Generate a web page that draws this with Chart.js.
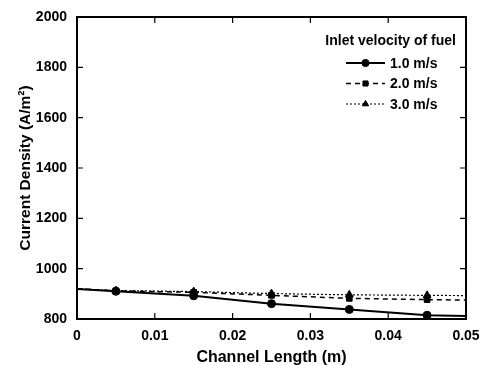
<!DOCTYPE html>
<html>
<head>
<meta charset="utf-8">
<script src="https://cdn.jsdelivr.net/npm/chart.js@4/dist/chart.umd.min.js"></script>
<style>
  html, body { margin: 0; padding: 0; background: #fff; }
  #wrap { width: 483px; height: 365px; }
</style>
</head>
<body>
<div id="wrap"><canvas id="chart" width="483" height="365"></canvas></div>
<script>
// Channel positions (m): line ends at 0 and 0.05, markers at the middle points
const positions = [0, 0.005, 0.015, 0.025, 0.035, 0.045, 0.05];
const markerShown = [0, 1, 1, 1, 1, 1, 0];

// Current density (A/m2) for each inlet velocity
const velocity1 = [919, 910, 892, 861, 838, 815, 812];
const velocity2 = [920, 912, 906, 894, 882, 877, 875];
const velocity3 = [920, 913, 909, 901, 896, 894, 893];

const seriesLabels = ["1.0 m/s", "2.0 m/s", "3.0 m/s"];
const legendTitle = "Inlet velocity of fuel";

const yTicks = [800, 1000, 1200, 1400, 1600, 1800, 2000];
const xTicks = [0, 0.01, 0.02, 0.03, 0.04, 0.05];
const xTickLabels = ["0", "0.01", "0.02", "0.03", "0.04", "0.05"];

const FONT = "'Liberation Sans', Arial, sans-serif";

function points(values) {
  return positions.map((x, i) => ({ x: x, y: values[i] }));
}
const radii = markerShown.map(m => m ? 4 : 0);

// ticks pointing inwards on all four sides plus the box
const frame = {
  id: 'frame',
  afterDraw(chart) {
    const c = chart.ctx, a = chart.chartArea;
    const xs = chart.scales.x, ys = chart.scales.y;
    c.save();
    c.strokeStyle = '#000';
    c.lineWidth = 2;
    c.strokeRect(a.left, a.top, a.right - a.left, a.bottom - a.top);
    c.lineWidth = 1.2;
    c.beginPath();
    xTicks.forEach(v => {
      const px = xs.getPixelForValue(v);
      c.moveTo(px, a.bottom); c.lineTo(px, a.bottom - 6);
      c.moveTo(px, a.top); c.lineTo(px, a.top + 6);
    });
    yTicks.forEach(v => {
      const py = ys.getPixelForValue(v);
      c.moveTo(a.left, py); c.lineTo(a.left + 6, py);
      c.moveTo(a.right, py); c.lineTo(a.right - 6, py);
    });
    c.stroke();
    c.restore();
  }
};

// legend with line + marker samples, drawn inside the plot
const lineLegend = {
  id: 'lineLegend',
  afterDraw(chart) {
    const c = chart.ctx, a = chart.chartArea;
    c.save();
    c.fillStyle = '#000';
    c.font = 'bold 14px ' + FONT;
    c.textAlign = 'right';
    c.textBaseline = 'middle';
    c.fillText(legendTitle, a.right - 10, a.top + 24);
    c.textAlign = 'left';
    c.font = 'bold 14px ' + FONT;
    chart.data.datasets.forEach((ds, i) => {
      const y = a.top + 46 + i * 20.5;
      const x0 = a.right - 120, x1 = a.right - 81;
      c.strokeStyle = '#000';
      c.lineWidth = ds.borderWidth;
      c.setLineDash(ds.borderDash || []);
      c.beginPath(); c.moveTo(x0, y); c.lineTo(x1, y); c.stroke();
      c.setLineDash([]);
      c.lineWidth = 1;
      Chart.helpers.drawPoint(c, { pointStyle: ds.pointStyle, radius: i === 2 ? 3.6 : 3.6, rotation: 0, borderWidth: 1 }, (x0 + x1) / 2, y);
      c.fillText(ds.label, x1 + 5, y + 1);
    });
    c.restore();
  }
};

new Chart(document.getElementById('chart'), {
  type: 'line',
  data: {
    datasets: [
      { label: seriesLabels[0], data: points(velocity1), borderColor: '#000', backgroundColor: '#000',
        borderWidth: 2, pointStyle: 'circle', pointRadius: radii, pointBorderWidth: 1 },
      { label: seriesLabels[1], data: points(velocity2), borderColor: '#000', backgroundColor: '#000',
        borderWidth: 1.5, borderDash: [5, 4], pointStyle: 'rect', pointRadius: radii, pointBorderWidth: 1 },
      { label: seriesLabels[2], data: points(velocity3), borderColor: '#000', backgroundColor: '#000',
        borderWidth: 1.2, borderDash: [2, 2], pointStyle: 'triangle', pointRadius: radii.map(r => r ? 4.5 : 0), pointBorderWidth: 1 }
    ]
  },
  options: {
    responsive: false,
    animation: false,
    devicePixelRatio: 1,
    layout: { padding: { left: 16, right: 17, top: 17, bottom: 0 } },
    plugins: { legend: { display: false }, tooltip: { enabled: false } },
    scales: {
      x: {
        type: 'linear', min: 0, max: 0.05,
        grid: { display: false },
        border: { display: false },
        afterBuildTicks: s => { s.ticks = xTicks.map(v => ({ value: v })); },
        afterFit: s => { s.height = 46; },
        ticks: {
          color: '#000', font: { family: FONT, size: 14, weight: 'bold' }, padding: 1,
          maxRotation: 0,
          callback: (v, i) => xTickLabels[i]
        },
        title: { display: true, text: 'Channel Length (m)', color: '#000',
                 font: { family: FONT, size: 16, weight: 'bold' }, padding: { top: 0, bottom: -2 } }
      },
      y: {
        min: 800, max: 2000,
        grid: { display: false },
        border: { display: false },
        afterBuildTicks: s => { s.ticks = yTicks.map(v => ({ value: v })); },
        afterFit: s => { s.width = 61; },
        ticks: {
          color: '#000', font: { family: FONT, size: 14, weight: 'bold' }, padding: 2,
          callback: v => String(v)
        },
        title: { display: true, text: 'Current Density (A/m²)', color: '#000',
                 font: { family: FONT, size: 15.5, weight: 'bold' }, padding: { top: 0, bottom: 0 } }
      }
    }
  },
  plugins: [frame, lineLegend]
});
</script>
</body>
</html>
